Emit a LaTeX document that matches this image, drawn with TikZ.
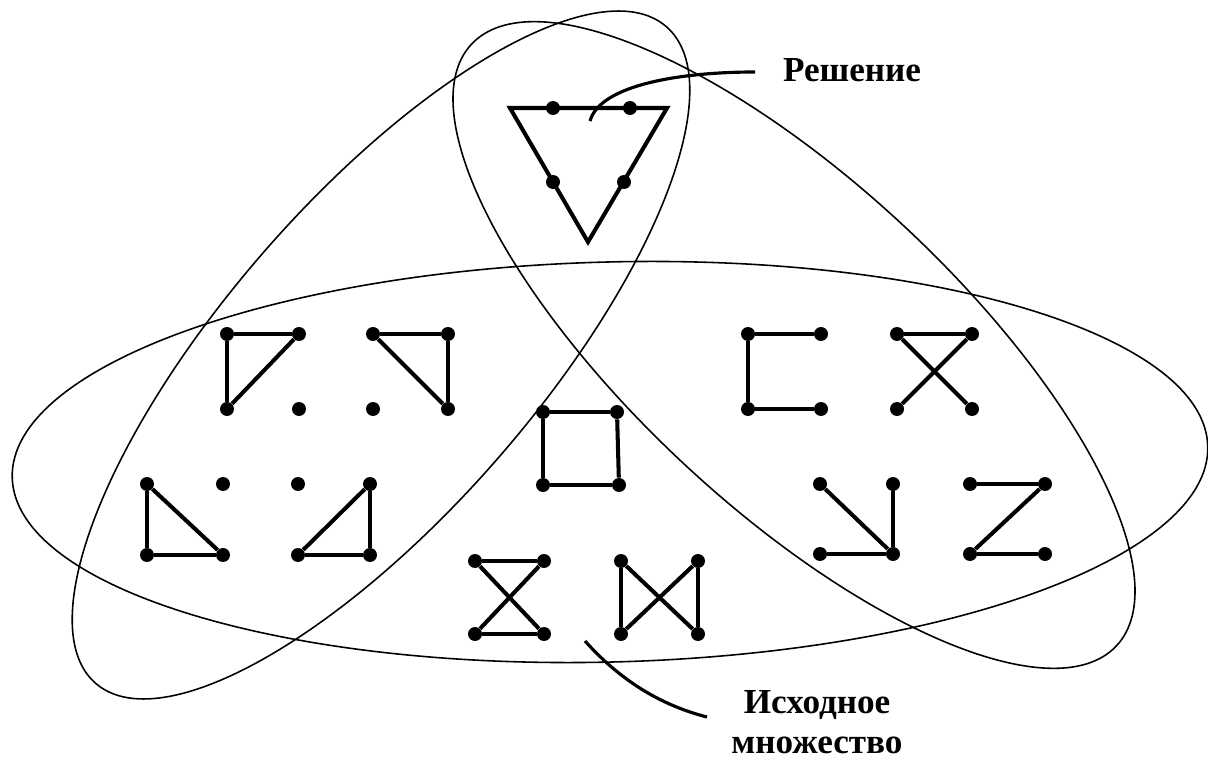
\documentclass[tikz,border=0pt]{standalone}
\usepackage{fontspec}
\setmainfont{Liberation Serif}
\begin{document}
\begin{tikzpicture}[x=0.02cm,y=-0.02cm,
  loop/.style={line width=0.9pt},
  dot/.style={circle,fill=black,inner sep=0pt,minimum size=0.28cm},
  edge/.style={line width=2.3pt},
  leader/.style={line width=1.8pt},
  lbl/.style={font=\fontsize{20}{23}\selectfont\bfseries,align=center,inner sep=0pt}]
\useasboundingbox (0,0) rectangle (1208,760);

% the three overlapping sets
\draw[loop, rotate around={1.5:(610,462)}] (610,462) ellipse [x radius=598, y radius=200];
\draw[loop, rotate around={49:(381,355)}] (381,355) ellipse [x radius=435, y radius=156];
\draw[loop, rotate around={-43:(794,345)}] (794,345) ellipse [x radius=441, y radius=162];

% solution: triangle through four points
\coordinate (t1) at (510,108);
\coordinate (t2) at (667,108);
\coordinate (t3) at (588,242);
\draw[edge, line join=miter] (t1) -- (t2) -- (t3) -- cycle;
\node[dot] (s1) at (553,108) {};
\node[dot] (s2) at (630,108) {};
\node[dot] (s3) at (553,182) {};
\node[dot] (s4) at (624,182) {};

% left group, upper row
\node[dot] (a1) at (227,334) {};
\node[dot] (a2) at (299,334) {};
\node[dot] (a3) at (227,409) {};
\node[dot] (a4) at (299,409) {};
\draw[edge] (a1) -- (a2);
\draw[edge] (a1) -- (a3);
\draw[edge] (a3) -- (a2);

\node[dot] (b1) at (373,334) {};
\node[dot] (b2) at (448,334) {};
\node[dot] (b3) at (373,409) {};
\node[dot] (b4) at (448,409) {};
\draw[edge] (b1) -- (b2);
\draw[edge] (b1) -- (b4);
\draw[edge] (b2) -- (b4);

% left group, lower row
\node[dot] (c1) at (147,484) {};
\node[dot] (c2) at (223,484) {};
\node[dot] (c3) at (147,555) {};
\node[dot] (c4) at (223,555) {};
\draw[edge] (c1) -- (c3);
\draw[edge] (c3) -- (c4);
\draw[edge] (c1) -- (c4);

\node[dot] (d1) at (298,484) {};
\node[dot] (d2) at (370,484) {};
\node[dot] (d3) at (298,555) {};
\node[dot] (d4) at (370,555) {};
\draw[edge] (d2) -- (d4);
\draw[edge] (d3) -- (d4);
\draw[edge] (d3) -- (d2);

% centre square
\node[dot] (q1) at (543,412) {};
\node[dot] (q2) at (617,412) {};
\node[dot] (q3) at (543,485) {};
\node[dot] (q4) at (619,485) {};
\draw[edge] (q1) -- (q2);
\draw[edge] (q2) -- (q4);
\draw[edge] (q4) -- (q3);
\draw[edge] (q3) -- (q1);

% bottom pair
\node[dot] (e1) at (475,561) {};
\node[dot] (e2) at (544,561) {};
\node[dot] (e3) at (475,634) {};
\node[dot] (e4) at (544,634) {};
\draw[edge] (e1) -- (e2);
\draw[edge] (e3) -- (e4);
\draw[edge] (e1) -- (e4);
\draw[edge] (e2) -- (e3);

\node[dot] (f1) at (621,561) {};
\node[dot] (f2) at (698,561) {};
\node[dot] (f3) at (621,634) {};
\node[dot] (f4) at (698,634) {};
\draw[edge] (f1) -- (f3);
\draw[edge] (f2) -- (f4);
\draw[edge] (f1) -- (f4);
\draw[edge] (f2) -- (f3);

% right group, upper row
\node[dot] (g1) at (748,334) {};
\node[dot] (g2) at (821,334) {};
\node[dot] (g3) at (748,409) {};
\node[dot] (g4) at (821,409) {};
\draw[edge] (g2) -- (g1);
\draw[edge] (g1) -- (g3);
\draw[edge] (g3) -- (g4);

\node[dot] (h1) at (897,334) {};
\node[dot] (h2) at (972,334) {};
\node[dot] (h3) at (897,409) {};
\node[dot] (h4) at (972,409) {};
\draw[edge] (h1) -- (h2);
\draw[edge] (h1) -- (h4);
\draw[edge] (h2) -- (h3);

% right group, lower row
\node[dot] (i1) at (820,484) {};
\node[dot] (i2) at (893,484) {};
\node[dot] (i3) at (820,554) {};
\node[dot] (i4) at (893,554) {};
\draw[edge] (i1) -- (i4);
\draw[edge] (i2) -- (i4);
\draw[edge] (i3) -- (i4);

\node[dot] (j1) at (970,484) {};
\node[dot] (j2) at (1045,484) {};
\node[dot] (j3) at (970,554) {};
\node[dot] (j4) at (1045,554) {};
\draw[edge] (j1) -- (j2);
\draw[edge] (j2) -- (j3);
\draw[edge] (j3) -- (j4);

% labels and their leaders
\node[lbl] (sol) at (852,70) {Решение};
\node[lbl] (src) at (817,722) {Исходное\\множество};
\coordinate (r1) at (590,121);
\coordinate (r2) at (755,72);
\draw[leader] (r1) .. controls (600,85) and (680,72) .. (r2);
\coordinate (u1) at (585,641);
\coordinate (u2) at (707,717);
\draw[leader] (u1) .. controls (620,680) and (660,705) .. (u2);
\end{tikzpicture}
\end{document}
